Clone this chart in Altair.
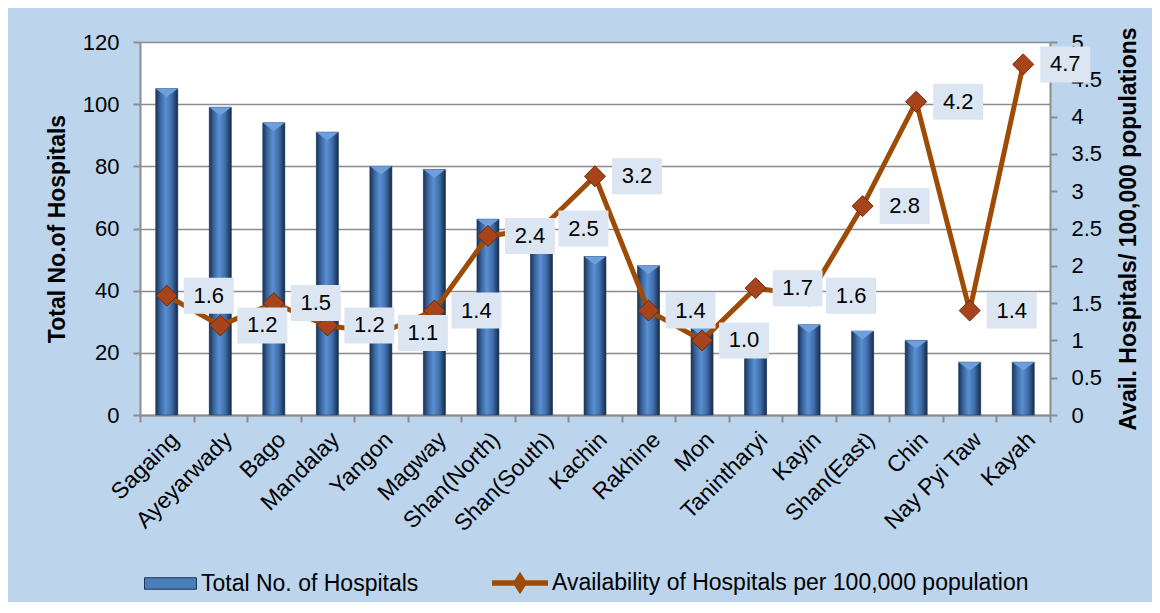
import altair as alt
import pandas as pd

regions = ["Sagaing", "Ayeyarwady", "Bago", "Mandalay", "Yangon", "Magway",
           "Shan(North)", "Shan(South)", "Kachin", "Rakhine", "Mon", "Tanintharyi",
           "Kayin", "Shan(East)", "Chin", "Nay Pyi Taw", "Kayah"]
hospitals = [105, 99, 94, 91, 80, 79, 63, 57, 51, 48, 28, 23, 29, 27, 24, 17, 17]
availability = [1.6, 1.2, 1.5, 1.2, 1.1, 1.4, 2.4, 2.5, 3.2, 1.4, 1.0, 1.7, 1.6, 2.8, 4.2, 1.4, 4.7]

bar_series = "Total No. of Hospitals"
line_series = "Availability of Hospitals per 100,000 population"

df = pd.DataFrame({
    "region": regions,
    "hospitals": hospitals,
    "avail": availability,
    "s1": [bar_series] * len(regions),
    "s2": [line_series] * len(regions),
})

FONT = "Liberation Sans"
GREY = "#8c8c8c"

x_enc = alt.X("region:N", sort=regions,
              scale=alt.Scale(paddingInner=0, paddingOuter=0),
              axis=alt.Axis(title=None, labelAngle=315, labelFontSize=23,
                            tickBand="extent", grid=False, labelPadding=6))

y_left = alt.Y("hospitals:Q", scale=alt.Scale(domain=[0, 120], nice=False),
               axis=alt.Axis(title="Total No.of Hospitals", values=list(range(0, 121, 20)),
                             grid=True, titleX=-83, titleY=186.5, titleAngle=270,
                             titleAlign="center", titleBaseline="middle"))

y_right = alt.Y("avail:Q", scale=alt.Scale(domain=[0, 5], nice=False),
                axis=alt.Axis(title="Avail. Hospitals/ 100,000 populations", orient="right",
                              values=[i * 0.5 for i in range(11)], format=".1~f",
                              grid=False, titleX=78, titleY=186.5, titleAngle=270,
                              titleAlign="center", titleBaseline="middle"))

base = alt.Chart(df)

bar_legend = base.mark_bar(width=22).encode(
    x=x_enc, y=y_left,
    color=alt.Color("s1:N", scale=alt.Scale(domain=[bar_series], range=["#4a7ebb"]),
                    legend=alt.Legend(title=None, orient="none", legendX=4, legendY=515,
                                      symbolType="M-1,-0.22L1,-0.22L1,0.22L-1,0.22Z",
                                      symbolSize=2704, symbolStrokeColor="#1d3557",
                                      symbolStrokeWidth=1, labelOffset=4, padding=0)),
)

grad = alt.Gradient(gradient="linear", x1=0, x2=1, y1=0, y2=0, stops=[
    alt.GradientStop(color="#1b3254", offset=0),
    alt.GradientStop(color="#3b68a3", offset=0.22),
    alt.GradientStop(color="#5990d2", offset=0.45),
    alt.GradientStop(color="#3f6eab", offset=0.72),
    alt.GradientStop(color="#182a45", offset=1),
])
bar_grad = base.mark_bar(width=22, fill=grad, stroke="#23406a", strokeWidth=0.6).encode(
    x=x_enc, y=y_left)

bar_caps = base.mark_point(shape="M-1,0L1,0L0,0.75Z", filled=True, size=484,
                           fill="#6d9fde", opacity=1, strokeWidth=0).encode(
    x=x_enc, y=y_left)

line = base.mark_line(strokeWidth=5).encode(
    x=x_enc, y=y_right,
    color=alt.Color("s2:N", scale=alt.Scale(domain=[line_series], range=["#9e4b05"]),
                    legend=alt.Legend(title=None, orient="none", legendX=352, legendY=513,
                                      symbolType="M-1,-0.1L1,-0.1L1,0.1L-1,0.1Z M0,-0.4L0.26,0L0,0.4L-0.26,0Z",
                                      symbolSize=3136, symbolFillColor="#9e4b05",
                                      symbolStrokeWidth=0, labelOffset=4, padding=0)),
)

points = base.mark_point(shape="diamond", filled=True, size=440, fill="#a8441c",
                         stroke="#6b2a0c", strokeWidth=1, opacity=1).encode(
    x=x_enc, y=y_right)

boxes = base.mark_point(shape="M-1,-0.72L1,-0.72L1,0.72L-1,0.72Z", filled=True, size=2500,
                        fill="#dce6f2", opacity=1, strokeWidth=0, xOffset=42).encode(
    x=x_enc, y=y_right)

labels = base.mark_text(dx=42, font=FONT, fontSize=22, align="center", baseline="middle",
                        color="black").encode(
    x=x_enc, y=y_right, text=alt.Text("avail:Q", format=".1f"))

left_group = alt.layer(bar_legend, bar_grad, bar_caps)
right_group = alt.layer(line, points, boxes, labels)

chart = alt.layer(left_group, right_group).resolve_scale(
    y="independent", color="independent"
).properties(
    width=910, height=373,
    autosize=alt.AutoSizeParams(type="none"),
    padding={"left": 132, "top": 34, "right": 102, "bottom": 187},
    background="#bcd4ec",
).configure_view(
    fill="white", stroke=None
).configure_axis(
    labelFont=FONT, labelFontSize=22, labelColor="black",
    titleFont=FONT, titleFontSize=23, titleFontWeight="bold", titleColor="black",
    domainColor=GREY, domainWidth=2, tickColor=GREY, tickWidth=2, tickSize=7,
    gridColor=GREY, gridWidth=1.5, labelPadding=14,
).configure_legend(
    labelFont=FONT, labelFontSize=23, labelColor="black", labelLimit=0,
)

chart.save("out.html", embed_options={"renderer": "svg", "actions": False})
